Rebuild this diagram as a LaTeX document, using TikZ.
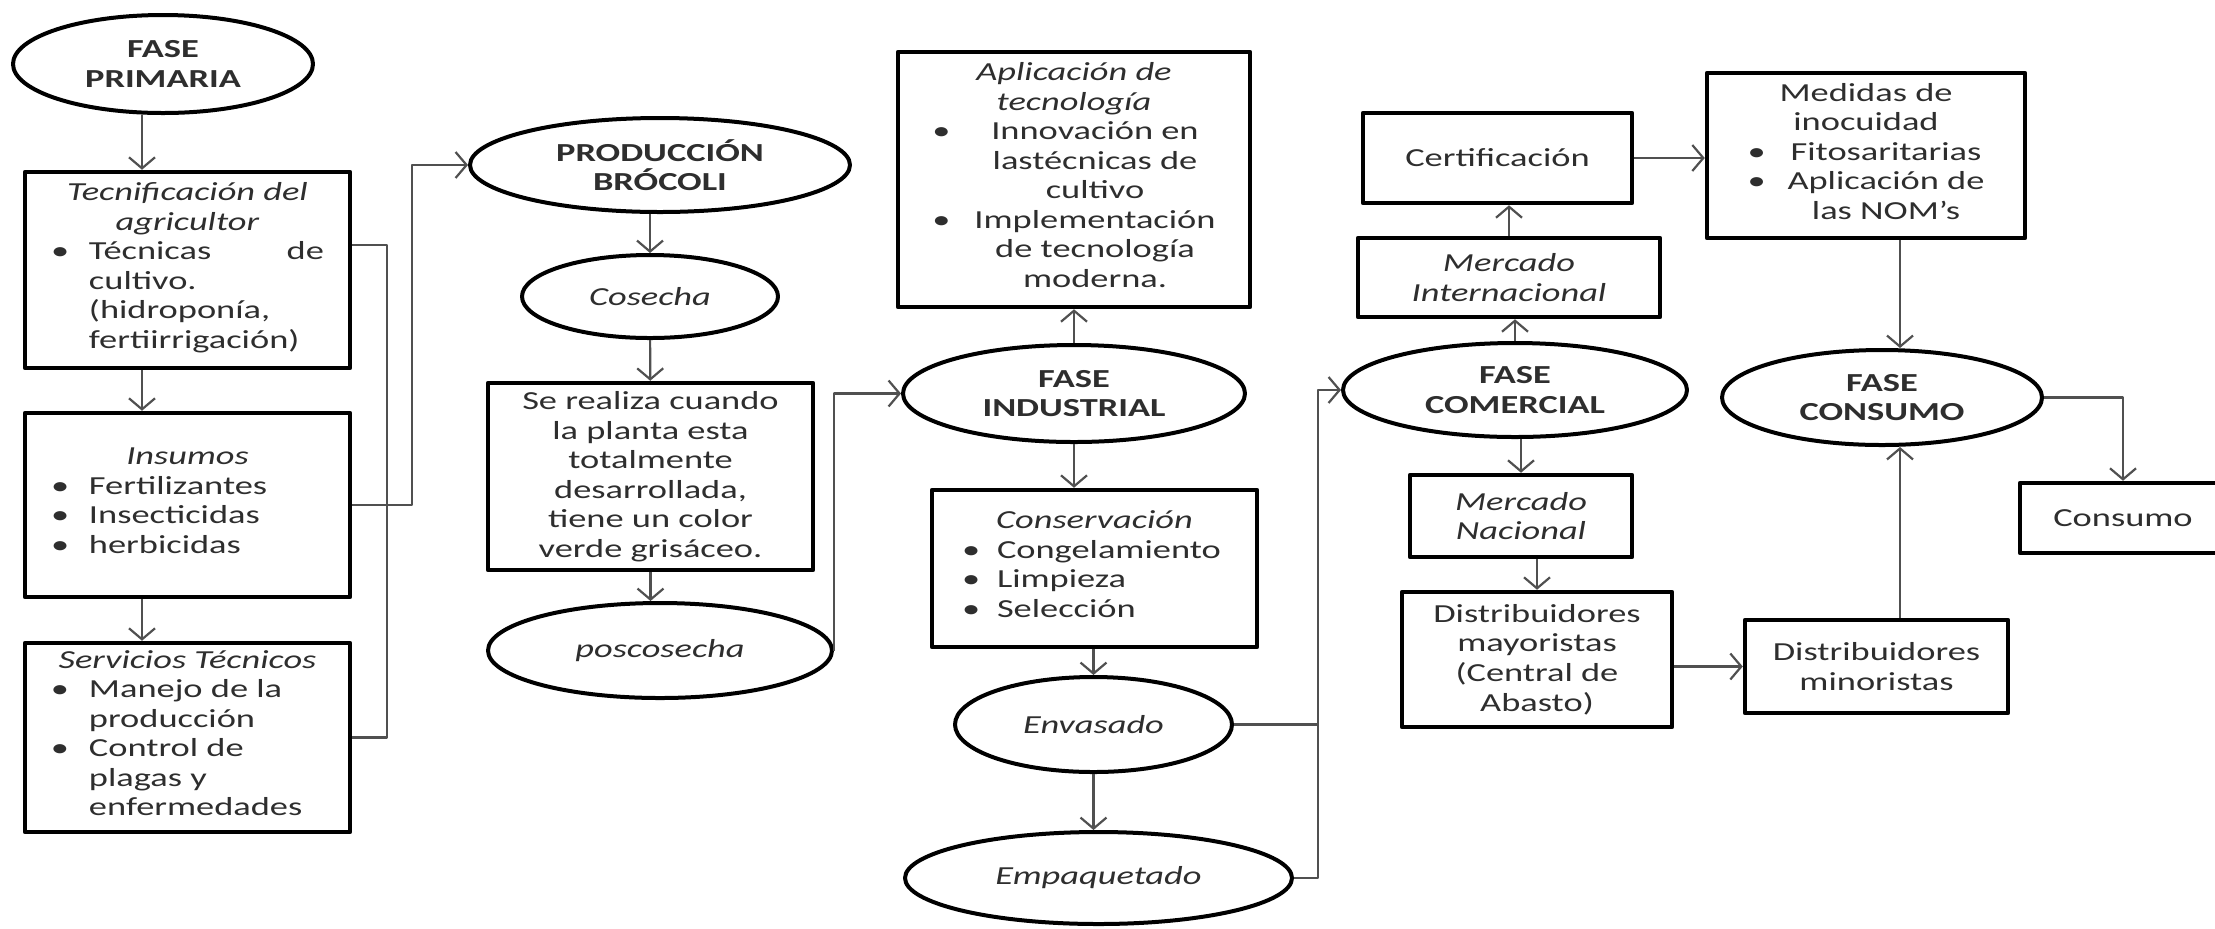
\documentclass[tikz,border=0pt]{standalone}
\usepackage{fontspec}
\setmainfont{Carlito}[FakeStretch=1.4]
\usepackage{array}
\usetikzlibrary{shapes.geometric,arrows.meta}

\definecolor{brocline}{HTML}{505050}
\definecolor{broctext}{HTML}{2E2E2E}
\newcommand{\brocsize}{\fontsize{7.4}{8.4}\selectfont}

\tikzset{
  fasebox/.style={draw=black,line width=0.45mm,rectangle,align=center,inner sep=0pt,text=broctext,font=\brocsize},
  faseell/.style={draw=black,line width=0.4mm,ellipse,align=center,inner sep=0pt,text=broctext,font=\brocsize},
  fasebold/.style={faseell,font=\brocsize\bfseries},
  link/.style={draw=brocline,line width=0.22mm},
  flow/.style={link,-{Straight Barb[length=1.1mm,width=2.6mm]}},
}

\begin{document}
\begin{tikzpicture}[x=0.1mm,y=-0.1mm,line join=round]
  % Frame in reference pixels, y grows downwards.
  \useasboundingbox (0,0) rectangle (2215,928);

  % Fase primaria column.
  \node[fasebold,minimum width=30mm,minimum height=9.8mm] (primaria) at (163,64) {FASE\\PRIMARIA};
  \node[fasebox,minimum width=32.5mm,minimum height=19.6mm] (tec) at (187.5,270)
    {\textit{Tecnificación del}\\\textit{agricultor}\\
     \begin{tabular}[t]{@{}p{3.8mm}@{}p{23.5mm}@{}}
       \textbullet & \makebox[23.5mm][s]{Técnicas de}\\
                   & cultivo.\\
                   & (hidroponía,\\
                   & fertiirrigación)
     \end{tabular}};
  \node[fasebox,minimum width=32.5mm,minimum height=18.4mm] (ins) at (187.5,505)
    {\textit{Insumos}\\
     \begin{tabular}[t]{@{}p{3.8mm}@{}p{23.5mm}@{}}
       \textbullet & Fertilizantes\\
       \textbullet & Insecticidas\\
       \textbullet & herbicidas
     \end{tabular}};
  \node[fasebox,minimum width=32.5mm,minimum height=18.9mm] (serv) at (187.5,737.5)
    {\textit{Servicios Técnicos}\\
     \begin{tabular}[t]{@{}p{3.8mm}@{}p{23.5mm}@{}}
       \textbullet & Manejo de la\\
                   & producción\\
       \textbullet & Control de\\
                   & plagas y\\
                   & enfermedades
     \end{tabular}};

  % Produccion column.
  \node[fasebold,minimum width=38mm,minimum height=9.4mm] (prod) at (660,165) {PRODUCCIÓN\\BRÓCOLI};
  \node[faseell,minimum width=25.6mm,minimum height=8.3mm] (cosecha) at (650,296.5) {\textit{Cosecha}};
  \node[fasebox,minimum width=32.5mm,minimum height=18.7mm] (realiza) at (650.5,476.5)
    {Se realiza cuando\\la planta esta\\totalmente\\desarrollada,\\tiene un color\\verde grisáceo.};
  \node[faseell,minimum width=34.4mm,minimum height=9.5mm] (posco) at (660,650.5) {\textit{poscosecha}};

  % Fase industrial column.
  \node[fasebox,minimum width=35.2mm,minimum height=25.5mm] (aplic) at (1074,179.5)
    {\textit{Aplicación de}\\\textit{tecnología}\\
     \begin{tabular}[t]{@{}p{4.2mm}@{}c@{}}
       \textbullet & Innovación en\\
                   & lastécnicas de\\
                   & cultivo\\
       \textbullet & Implementación\\
                   & de tecnología\\
                   & moderna.
     \end{tabular}};
  \node[fasebold,minimum width=34.2mm,minimum height=9.7mm] (indus) at (1074,393.5) {FASE\\INDUSTRIAL};
  \node[fasebox,minimum width=32.5mm,minimum height=15.7mm] (conserv) at (1094.5,568.5)
    {\textit{Conservación}\\
     \begin{tabular}[t]{@{}p{3.5mm}@{}p{23mm}@{}}
       \textbullet & Congelamiento\\
       \textbullet & Limpieza\\
       \textbullet & Selección
     \end{tabular}};
  \node[faseell,minimum width=27.7mm,minimum height=9.5mm] (envas) at (1093.5,724.5) {\textit{Envasado}};
  \node[faseell,minimum width=38.7mm,minimum height=9.2mm] (empaq) at (1098.5,878) {\textit{Empaquetado}};

  % Fase comercial column.
  \node[fasebox,minimum width=26.9mm,minimum height=9mm] (cert) at (1497.5,158) {Certificación};
  \node[fasebox,minimum width=30.2mm,minimum height=7.9mm] (inter) at (1509,277.5) {\textit{Mercado}\\\textit{Internacional}};
  \node[fasebold,minimum width=34.4mm,minimum height=9.4mm] (comer) at (1515,390) {FASE\\COMERCIAL};
  \node[fasebox,minimum width=22.2mm,minimum height=8.2mm] (nac) at (1521,516) {\textit{Mercado}\\\textit{Nacional}};
  \node[fasebox,minimum width=27mm,minimum height=13.5mm] (mayor) at (1537,659.5)
    {Distribuidores\\mayoristas\\(Central de\\Abasto)};

  % Fase consumo column.
  \node[fasebox,minimum width=31.8mm,minimum height=16.5mm] (medidas) at (1866,155.5)
    {Medidas de\\inocuidad\\
     \begin{tabular}[t]{@{}p{4mm}@{}c@{}}
       \textbullet & Fitosaritarias\\
       \textbullet & Aplicación de\\
                   & las NOM’s
     \end{tabular}};
  \node[fasebold,minimum width=32mm,minimum height=9.5mm] (fcons) at (1882,397.5) {FASE\\CONSUMO};
  \node[fasebox,minimum width=26.3mm,minimum height=9.3mm] (minor) at (1876.5,666.5) {Distribuidores\\minoristas};
  \node[fasebox,minimum width=20.6mm,minimum height=7mm] (consumo) at (2123,518) {Consumo};

  % Columns where the straight connectors run.
  \coordinate (lcol) at (142,0);
  \coordinate (cj) at (1318,0);
  \coordinate (ccol) at (1900,0);

  % Connectors.
  \draw[flow] (primaria.south -| lcol) -- (tec.north -| lcol);
  \draw[flow] (tec.south -| lcol) -- (ins.north -| lcol);
  \draw[flow] (ins.south -| lcol) -- (serv.north -| lcol);
  \draw[link] ([yshift=2.5mm]tec.east) -- ++(35,0) |- (serv.east);
  \draw[flow] (ins.east) -- ++(60,0) |- (prod.west);

  \draw[flow] (cosecha.north |- prod.south) -- (cosecha.north);
  \draw[flow] (cosecha) -- (realiza);
  \draw[flow] (realiza.south) -- (realiza.south |- posco.north);
  \draw[flow] (posco.east) |- (indus.west);

  \draw[flow] (indus) -- (aplic);
  \draw[flow] (indus.south) -- (indus.south |- conserv.north);
  \draw[flow] (conserv.south -| envas.north) -- (envas.north);
  \draw[flow] (envas.south) -- (envas.south |- empaq.north);
  \draw[link] (envas.east) -- (envas.east -| cj);
  \draw[flow] (empaq.east) -| (cj |- comer.west) -- (comer.west);

  \draw[flow] (comer.north) -- (comer.north |- inter.south);
  \draw[flow] (inter.north) -- (inter.north |- cert.south);
  \draw[flow] (cert.east) -- (cert.east -| medidas.west);
  \draw[flow] (nac.north |- comer.south) -- (nac.north);
  \draw[flow] (mayor.north |- nac.south) -- (mayor.north);
  \draw[flow] (minor.west -| mayor.east) -- (minor.west);

  \draw[flow] (medidas.south -| ccol) -- (fcons.north -| ccol);
  \draw[flow] (minor.north -| ccol) -- (fcons.south -| ccol);
  \draw[flow] (fcons.east) -| (consumo.north);
\end{tikzpicture}
\end{document}
